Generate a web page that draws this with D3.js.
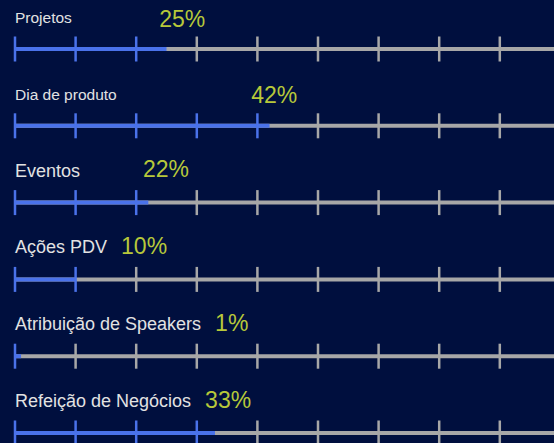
<!DOCTYPE html>
<html>
<head>
<meta charset="utf-8">
<script src="https://cdn.jsdelivr.net/npm/d3@7"></script>
<style>
  html, body { margin: 0; padding: 0; background: #000f3e; overflow: hidden; }
  svg { display: block; }
</style>
</head>
<body>
<svg id="chart"></svg>
<script>
// dados
const categories = ['Projetos', 'Dia de produto', 'Eventos', 'Ações PDV', 'Atribuição de Speakers', 'Refeição de Negócios'];
const percents = [25, 42, 22, 10, 1, 33];
const tickValues = [0, 10, 20, 30, 40, 50, 60, 70, 80, 90, 100];

class ProgressBars {
    constructor (config, data) {
        this.config = {
            parent: config.parent,
            width: config.width || 554,
            height: config.height || 443,
            margin: config.margin || {top: 49, left: 15},
            row: config.row || 76.8
        };
        this.data = data;
        this.init();
    }

    init() {
        let self = this;

        self.svg = d3.select(self.config.parent)
            .attr('width', self.config.width)
            .attr('height', self.config.height);

        self.chart = self.svg.append('g');

        // 0..100% -> pixels (a barra passa da borda direita)
        self.xscale = d3.scaleLinear()
            .domain([0, 100])
            .range([self.config.margin.left, self.config.margin.left + 606]);

        // posição do rótulo de porcentagem
        self.labelscale = d3.scaleLinear()
            .domain([0, 100])
            .range([24, 565]);

        self.yscale = d3.scaleBand()
            .domain(self.data.map(d => d.name))
            .range([self.config.margin.top, self.config.margin.top + self.config.row * self.data.length])
            .align(0);
    }

    update() {
        let self = this;
        self.y = d => self.yscale(d.name);
        self.render();
    }

    render() {
        let self = this;

        const row = self.chart.selectAll('.row')
            .data(self.data)
            .join('g')
            .attr('class', 'row')
            .attr('transform', d => `translate(0, ${self.y(d)})`);

        // trilho cinza
        row.append('line')
            .attr('x1', self.xscale(0))
            .attr('x2', self.xscale(100))
            .attr('stroke', '#a7a7a7')
            .attr('stroke-width', 4);

        // preenchimento azul
        row.append('line')
            .attr('x1', self.xscale(0))
            .attr('x2', d => self.xscale(d.value))
            .attr('stroke', '#4a72ea')
            .attr('stroke-width', 4);

        // marcas
        row.selectAll('.tick')
            .data(d => tickValues.map(t => ({t: t, v: d.value})))
            .join('line')
            .attr('class', 'tick')
            .attr('x1', d => self.xscale(d.t))
            .attr('x2', d => self.xscale(d.t))
            .attr('y1', -12.5)
            .attr('y2', 12.5)
            .attr('stroke', d => (d.t === 0 || d.t <= d.v) ? '#4a72ea' : '#a7a7a7')
            .attr('stroke-width', 2.5);

        // nomes
        const names = row.append('text')
            .attr('x', self.config.margin.left)
            .attr('y', -26)
            .attr('fill', '#e2e2e2')
            .style('font-family', '"Liberation Sans", Arial, Helvetica, sans-serif')
            .style('font-size', (d, i) => i < 2 ? '15.5px' : '18px')
            .text(d => d.name);

        // porcentagens
        row.append('text')
            .attr('x', function(d, i) {
                const end = self.config.margin.left + names.nodes()[i].getComputedTextLength();
                return Math.max(end + 14, self.labelscale(d.value));
            })
            .attr('y', (d, i) => i < 2 ? -22.5 : -25.5)
            .attr('fill', '#b7c83a')
            .style('font-family', '"Liberation Sans", Arial, Helvetica, sans-serif')
            .style('font-size', '23px')
            .text(d => d.value + '%');
    }
}

const data = categories.map((c, i) => ({name: c, value: percents[i]}));
const chart = new ProgressBars({parent: '#chart'}, data);
chart.update();
</script>
</body>
</html>
